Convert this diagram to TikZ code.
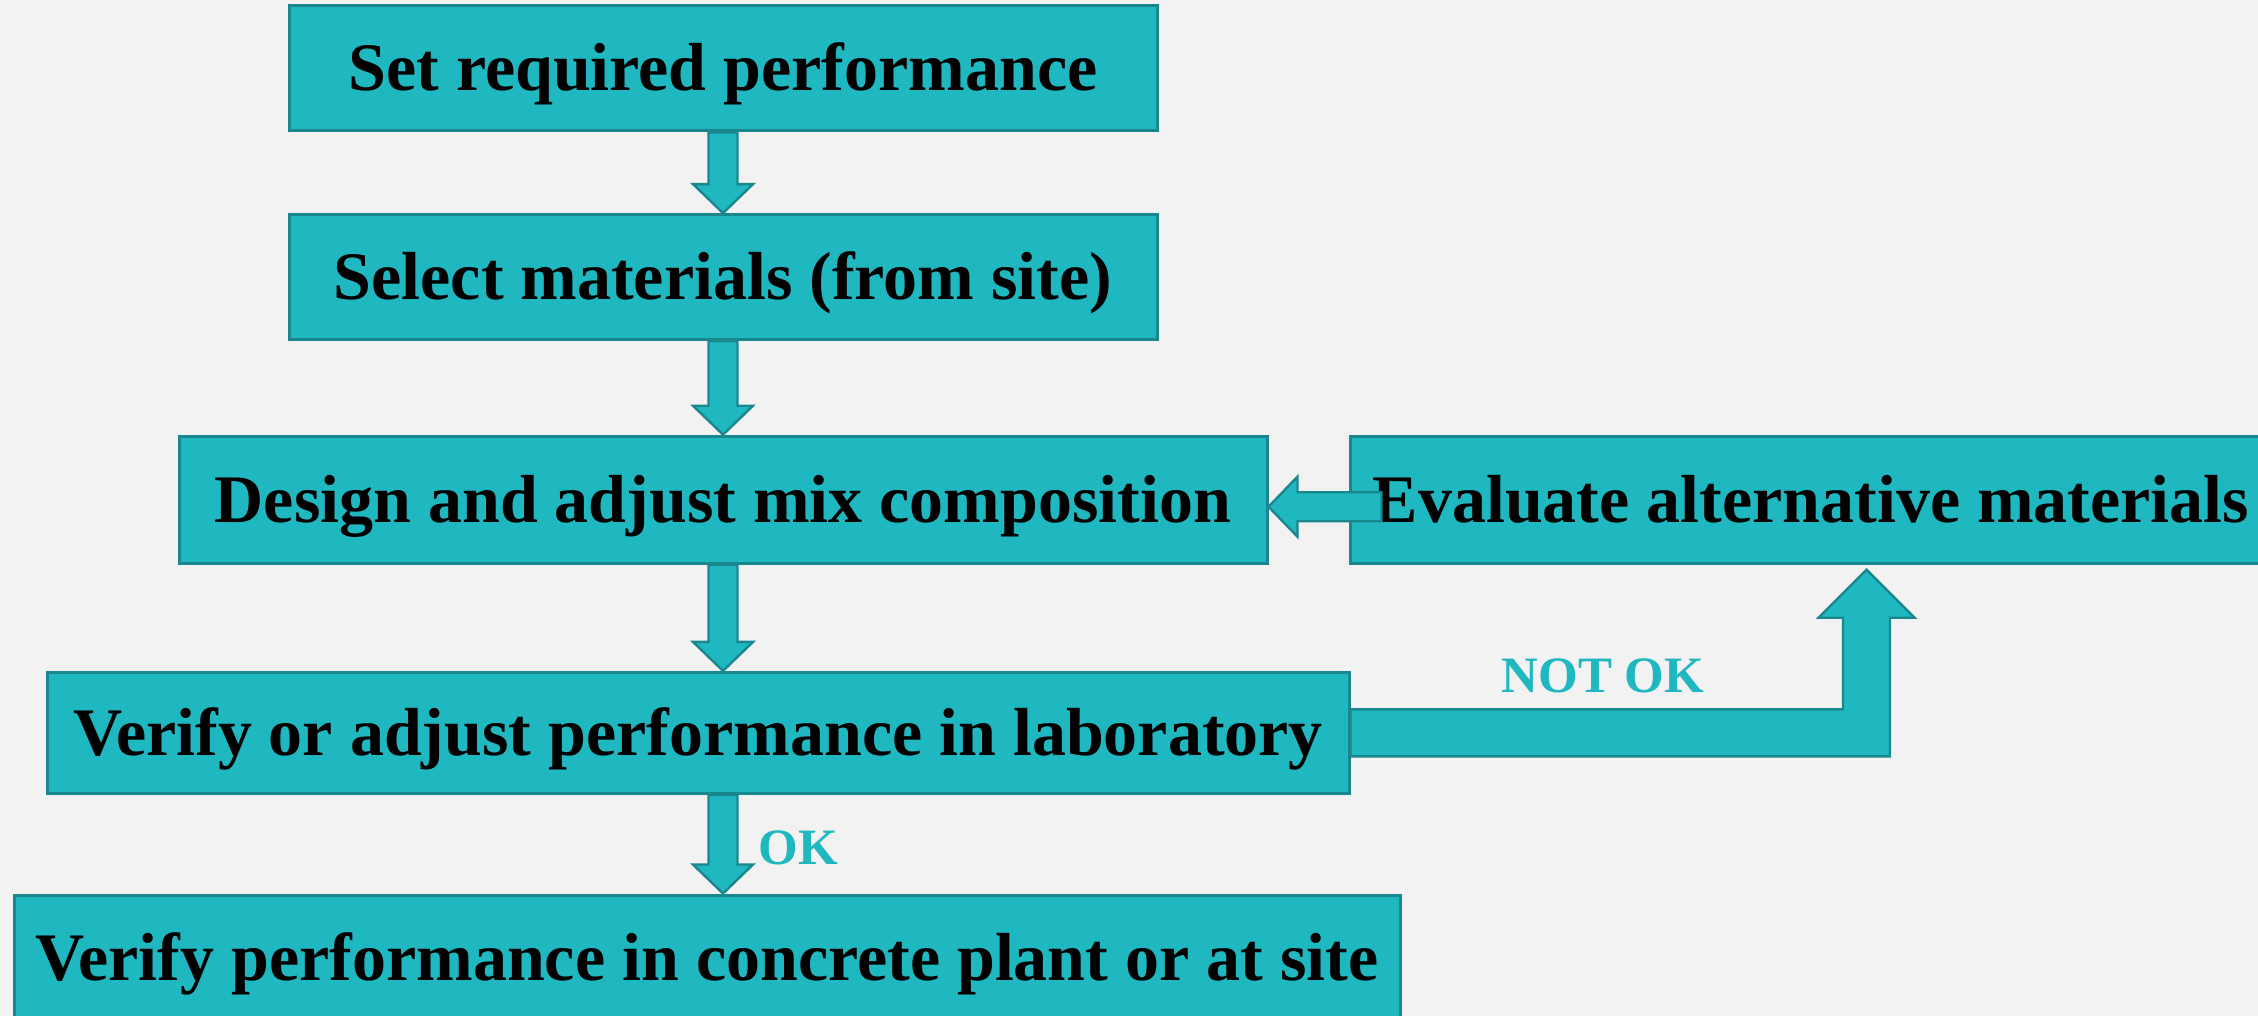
\documentclass[tikz,border=0pt]{standalone}
\usepackage{fontspec}
\setmainfont{Liberation Serif}
\usetikzlibrary{positioning, calc}

\definecolor{boxfill}{HTML}{20B8C0}
\definecolor{boxline}{HTML}{19878D}
\definecolor{bgcol}{HTML}{F2F2F2}

% block arrow straight down, on the axis of the top box
\newcommand{\vflow}[2]{%
  \path[flow] let \p1 = (#1.south -| set.south), \p2 = (#2.north -| set.south) in
    (\x1-7.25pt,\y1) -- (\x1-7.25pt,\y2+14.5pt) -- (\x1-15pt,\y2+14.5pt) -- (\x1,\y2)
    -- (\x1+15pt,\y2+14.5pt) -- (\x1+7.25pt,\y2+14.5pt) -- (\x1+7.25pt,\y1) -- cycle;}

\begin{document}
\begin{tikzpicture}[
        x = 0.5pt, y = -0.5pt,
        box/.style = {draw = boxline, line width = 1.5pt, fill = boxfill, inner sep = 0pt,
                      font = \bfseries\fontsize{34}{40}\selectfont, text height = 22.5pt, text depth = 0pt},
        flow/.style = {draw = boxline, line width = 1.2pt, fill = boxfill},
        lbl/.style = {text = boxfill, font = \bfseries\fontsize{25.5}{30}\selectfont}
    ]
      \fill[bgcol] (0,0) rectangle (2258,1016);
      \useasboundingbox (0,0) rectangle (2258,1016);

      \node[box, minimum width = 434pt, minimum height = 62.5pt] (set) at (723,68.5) {Set required performance};
      \node[box, minimum width = 434pt, minimum height = 62.5pt] (select) [below = 40.3pt of set] {Select materials (from site)};
      \node[box, minimum width = 544pt, minimum height = 63.5pt] (design) [below = 46.8pt of select] {Design and adjust mix composition};
      \node[box, minimum width = 461pt, minimum height = 63.5pt] (eval) [right = 40pt of design] {Evaluate alternative materials};
      \node[box, minimum width = 651pt, minimum height = 60.5pt] (lab) [below = 53.1pt of design, xshift = -12.5pt] {Verify or adjust performance in laboratory};
      \node[box, minimum width = 693pt, minimum height = 62.5pt] (site) [below = 49.3pt of lab, xshift = 4.5pt] {Verify performance in concrete plant or at site};

      \vflow{set}{select}
      \vflow{select}{design}
      \vflow{design}{lab}
      \vflow{lab}{site}

      % back to the mix design
      \path[flow] let \p1 = ($(design.east)+(0,7)$), \p2 = (eval.west) in
        (\x1,\y1) -- (\x1+14.5pt,\y1+15pt) -- (\x1+14.5pt,\y1+7.25pt) -- (\x2+16.5pt,\y1+7.25pt)
        -- (\x2+16.5pt,\y1-7.25pt) -- (\x1+14.5pt,\y1-7.25pt) -- (\x1+14.5pt,\y1-15pt) -- cycle;

      % failed check goes up to the alternatives
      \path[flow] let \p1 = (lab.east), \p2 = (eval.south west), \n1 = {\x2+259pt} in
        (\x1,\y1+11.75pt) -- (\n1-11.75pt,\y1+11.75pt) -- (\n1-11.75pt,\y2-26.5pt) -- (\n1-24pt,\y2-26.5pt)
        -- (\n1,\y2-2.5pt) -- (\n1+24pt,\y2-26.5pt) -- (\n1+11.75pt,\y2-26.5pt) -- (\n1+11.75pt,\y1-11.75pt)
        -- (\x1,\y1-11.75pt) -- cycle;

      \node[lbl] (notok) at (1603,676) {NOT OK};
      \node[lbl] (ok) at (798,848) {OK};
    \end{tikzpicture}
\end{document}
